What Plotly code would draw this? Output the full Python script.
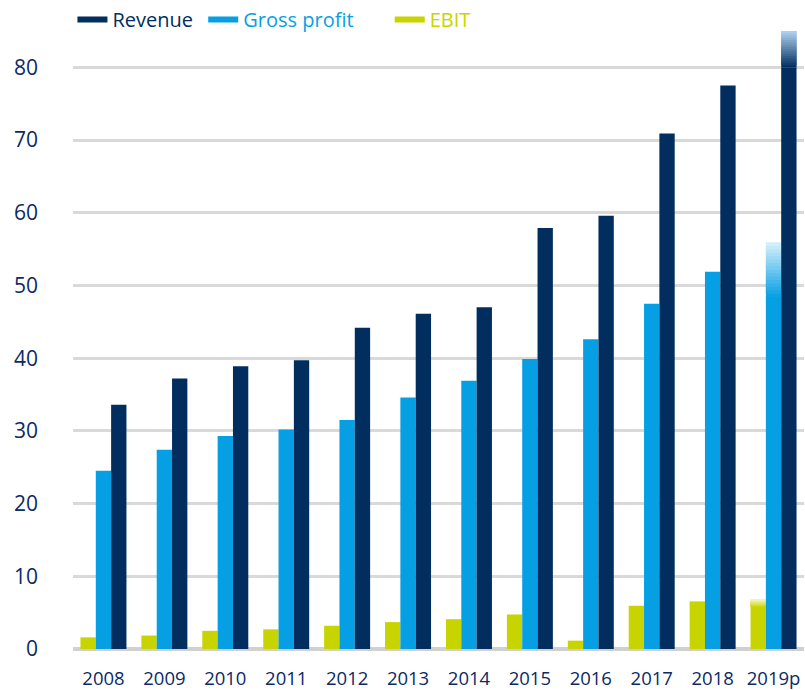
import plotly.graph_objects as go

categories = ["2008", "2009", "2010", "2011", "2012", "2013", "2014", "2015", "2016", "2017", "2018", "2019p"]
revenue = [33.6, 37.2, 38.9, 39.7, 44.2, 46.1, 47.0, 57.9, 59.6, 70.9, 77.5, 85.0]
gross_profit = [24.5, 27.4, 29.3, 30.2, 31.5, 34.6, 36.9, 39.9, 42.6, 47.5, 51.9, 55.9]
ebit = [1.6, 1.85, 2.5, 2.7, 3.2, 3.7, 4.1, 4.75, 1.15, 5.95, 6.55, 6.8]
y_ticks = [0, 10, 20, 30, 40, 50, 60, 70, 80]

# styles
TEXT = "#0b2a66"
FONT = "Open Sans"
series = [
    # name, values, colour, fade-to colour, fade length (units) for the forecast bar
    ("EBIT", ebit, "#c8d400", "#f2f5b8", 1.0, "e"),
    ("Gross profit", gross_profit, "#069fe3", "#d8f1fc", 7.5, "g"),
    ("Revenue", revenue, "#012e5f", "#b3d4f3", 5.0, "r"),
]
N_SEG = 16
forecast = len(categories) - 1


def mix(c1, c2, t):
    a = [int(c1[i:i + 2], 16) for i in (1, 3, 5)]
    b = [int(c2[i:i + 2], 16) for i in (1, 3, 5)]
    return "#%02x%02x%02x" % tuple(round(a[k] + (b[k] - a[k]) * t) for k in range(3))


fig = go.Figure()
for name, vals, col, fade_col, fade, grp in series:
    solid = list(vals)
    solid[forecast] = vals[forecast] - fade
    fig.add_trace(go.Bar(x=categories, y=solid, name=name, offsetgroup=grp,
                         marker=dict(color=col, line=dict(width=0)),
                         showlegend=False, hoverinfo="skip"))
    step = fade / N_SEG
    for i in range(N_SEG):
        t = (i + 0.5) / N_SEG
        h = step if i == N_SEG - 1 else step * 2
        fig.add_trace(go.Bar(x=[categories[forecast]], y=[h],
                             base=[vals[forecast] - fade + i * step],
                             offsetgroup=grp,
                             marker=dict(color=mix(col, fade_col, t), line=dict(width=0)),
                             showlegend=False, hoverinfo="skip"))

legend_items = [("Revenue", "#012e5f"), ("Gross profit", "#069fe3"), ("EBIT", "#c8d400")]
for name, col in legend_items:
    label = "<span style='color:%s'>%s</span>" % (col, name)
    if name == "Revenue":
        label += " "
    if name == "Gross profit":
        label += "      "
    fig.add_trace(go.Scatter(x=[None], y=[None], mode="lines", name=label,
                             line=dict(color=col, width=6)))

fig.update_layout(
    width=805, height=690,
    margin=dict(l=73, r=1, t=31, b=41, autoexpand=False),
    paper_bgcolor="white", plot_bgcolor="white",
    barmode="group", bargap=0.245, bargroupgap=0,
    font=dict(family=FONT, color=TEXT),
    legend=dict(orientation="h", xref="container", yref="container",
                x=0.09, y=1.0, xanchor="left", yanchor="top",
                font=dict(size=20, family=FONT), bgcolor="rgba(0,0,0,0)",
                itemwidth=30, tracegroupgap=0),
    xaxis=dict(showgrid=False, zeroline=False, showline=False,
               tickfont=dict(size=18.5, color=TEXT), ticks="",
               ticklabelstandoff=16, fixedrange=True),
    yaxis=dict(range=[0, 85], tickvals=y_ticks, showgrid=True,
               gridcolor="#d9d9d9", gridwidth=3,
               zeroline=True, zerolinecolor="#d0d0d0", zerolinewidth=4,
               tickfont=dict(size=21, color=TEXT), ticks="",
               ticklabelstandoff=34, showline=False, fixedrange=True),
)

fig.write_html("out.html", config={"displayModeBar": False},
               post_script="document.body.style.margin='0px';")
